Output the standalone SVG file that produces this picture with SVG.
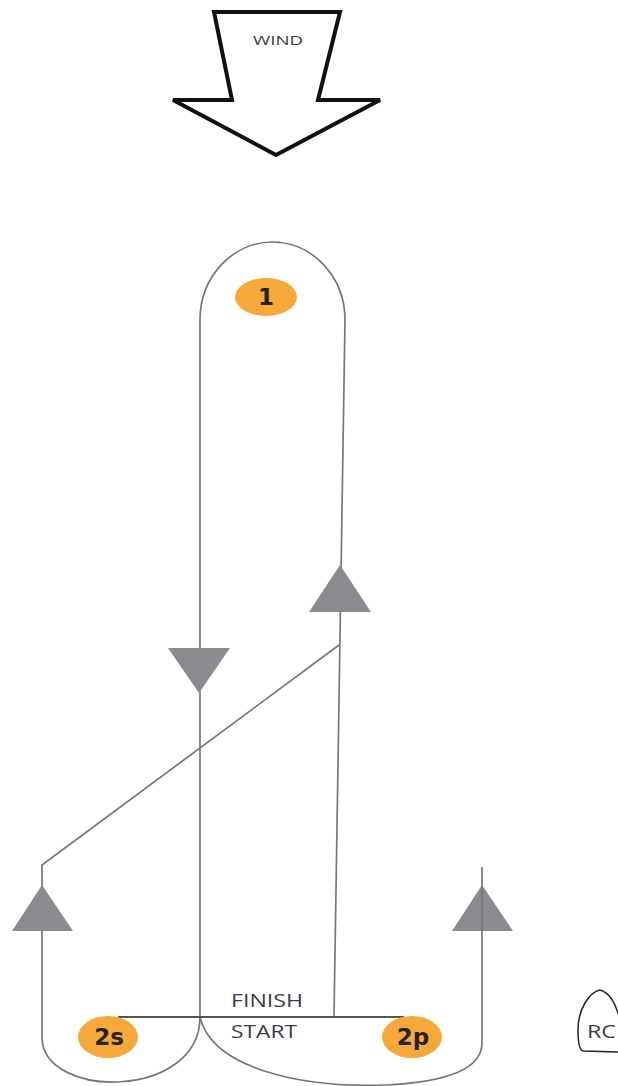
<svg xmlns="http://www.w3.org/2000/svg" width="618" height="1086" viewBox="0 0 618 1086">
<style>
.ln{fill:none;stroke:#777;stroke-width:1.7}
.fl{fill:none;stroke:#555;stroke-width:1.8}
.tri{fill:#8b8b8f}
.mk{fill:#f5a93b}
.mt{font-family:"DejaVu Sans","Liberation Sans",sans-serif;font-weight:bold;font-size:23px;fill:#2a2118;text-anchor:middle}
.lb{font-family:"Open Sans","Liberation Sans",sans-serif;fill:#3a3a48}
</style>
<rect width="618" height="1086" fill="#fff"/>
<g id="wind">
<polygon points="214,12 340,12 318,100 380,100 276,155 173,100 232,100" fill="#fff" stroke="#111" stroke-width="4" stroke-linejoin="miter"/>
<text class="lb" x="278" y="45" font-size="13" text-anchor="middle" textLength="50" lengthAdjust="spacingAndGlyphs">WIND</text>
</g>
<g id="connectors">
<path class="ln" d="M200,1017 L200,320 A72.5 78 0 0 1 345,320 L334,1017"/>
<path class="ln" d="M339,645 L42,865 L42,1037 C42,1100 200,1100 200,1017"/>
<path class="ln" d="M200,1017 C212,1068 300,1088 385,1085 C450,1082 482,1068 482,1043 L482,867"/>
<line class="fl" x1="118" y1="1017" x2="404" y2="1017"/>
</g>
<g id="arrow-down"><polygon class="tri" points="168,648 230,648 199,693"/></g>
<g id="arrow-up-mid"><polygon class="tri" points="340,565 309,612 371,612"/></g>
<g id="arrow-up-left"><polygon class="tri" points="42,885 12,931 73,931"/></g>
<g id="arrow-up-right"><polygon class="tri" points="482,885 452,931 513,931"/><line class="ln" x1="482" y1="885" x2="482" y2="931"/></g>
<g id="mark1"><ellipse class="mk" cx="266" cy="297" rx="31" ry="19"/><text class="mt" x="266" y="305">1</text></g>
<g id="mark2s"><ellipse class="mk" cx="108" cy="1037" rx="30" ry="21"/><text class="mt" x="109" y="1045">2s</text></g>
<g id="mark2p"><ellipse class="mk" cx="412" cy="1037" rx="30" ry="21"/><text class="mt" x="413" y="1045">2p</text></g>
<g id="labels">
<text class="lb" x="231" y="1007" font-size="18" textLength="72" lengthAdjust="spacingAndGlyphs">FINISH</text>
<text class="lb" x="231" y="1038" font-size="18" textLength="66" lengthAdjust="spacingAndGlyphs">START</text>
</g>
<g id="rc">
<path d="M620,1020 C615,1000 608,992 600,990 C590,992 578,1008 578,1030 C578,1042 579,1050 583,1051 L620,1052" fill="#fff" stroke="#222" stroke-width="1.5"/>
<text class="lb" x="587" y="1038" font-size="18" textLength="29" lengthAdjust="spacingAndGlyphs">RC</text>
</g>
</svg>
